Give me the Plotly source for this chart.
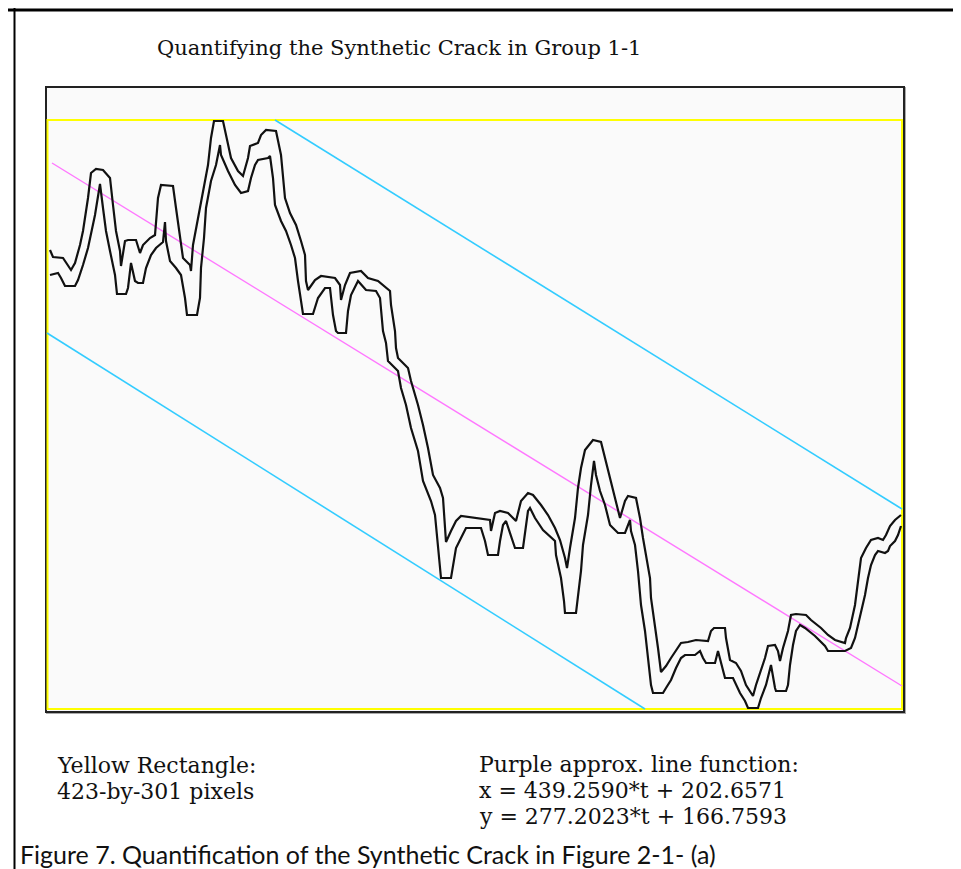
import plotly.graph_objects as go

# ---- crack outline, upper edge (image pixel coordinates, y downward) ----
upper_x = [42, 45, 55, 63, 67, 72, 75, 80, 83, 88, 95, 102, 105, 108, 112, 113, 117, 120, 128, 132, 135, 142, 147,
           150, 153, 165, 168, 172, 175, 182, 183, 185, 190, 195, 200, 203, 206, 215, 218, 223, 230, 235, 240, 242,
           250, 253, 258, 268, 273, 277, 282, 288, 293, 297, 298, 300, 307, 313, 327, 332, 333, 337, 342, 353, 360,
           370, 382, 383, 387, 388, 390, 400, 403, 410, 415, 420, 425, 432, 435, 437, 438, 443, 448, 453, 470, 482,
           483, 487, 492, 500, 508, 513, 520, 525, 533, 540, 547, 552, 557, 559, 562, 567, 570, 573, 577, 585, 593,
           597, 602, 605, 610, 612, 617, 620, 628, 632, 635, 638, 642, 643, 647, 650, 653, 658, 663, 670, 673, 680,
           688, 700, 703, 706, 717, 718, 720, 722, 728, 733, 738, 745, 748, 753, 757, 760, 767, 770, 772, 775, 780,
           783, 788, 798, 803, 813, 820, 827, 837, 838, 842, 847, 850, 853, 858, 863, 870, 875, 878, 882, 887, 893]
upper_y = [242, 249, 250, 262, 255, 237, 223, 190, 165, 161, 162, 170, 197, 223, 243, 258, 233, 232, 232, 245, 237,
           230, 227, 190, 177, 178, 200, 230, 250, 257, 263, 237, 210, 183, 157, 130, 113, 113, 127, 150, 163, 168,
           150, 138, 135, 127, 122, 123, 147, 190, 205, 217, 233, 247, 273, 282, 272, 268, 270, 277, 292, 277, 265,
           263, 270, 273, 283, 297, 323, 340, 350, 360, 373, 397, 417, 440, 467, 480, 490, 517, 534, 523, 513, 508,
           510, 512, 523, 505, 503, 505, 513, 493, 485, 487, 497, 507, 520, 532, 550, 560, 540, 510, 480, 460, 442,
           432, 434, 450, 470, 480, 503, 510, 493, 488, 490, 510, 530, 547, 570, 590, 617, 640, 664, 658, 650, 640,
           635, 634, 632, 633, 623, 620, 620, 630, 643, 652, 655, 663, 677, 688, 677, 663, 650, 638, 637, 643, 653,
           640, 623, 607, 606, 607, 612, 620, 627, 632, 635, 630, 620, 597, 573, 550, 540, 532, 530, 532, 527, 518,
           512, 507]

# ---- crack outline, lower edge ----
lower_x = [42, 50, 53, 57, 67, 70, 75, 80, 87, 92, 95, 98, 102, 107, 109, 118, 120, 123, 127, 130, 135, 138, 143,
           148, 155, 157, 158, 162, 168, 173, 177, 179, 189, 192, 193, 196, 198, 203, 208, 212, 213, 220, 227, 233,
           240, 243, 247, 250, 260, 262, 265, 267, 273, 278, 283, 287, 290, 293, 295, 305, 310, 317, 322, 325, 328,
           330, 338, 340, 343, 350, 358, 368, 372, 375, 378, 380, 390, 393, 398, 403, 410, 415, 423, 427, 432, 433,
           443, 445, 448, 453, 458, 473, 477, 480, 490, 492, 495, 498, 503, 507, 515, 517, 520, 522, 527, 535, 540,
           547, 548, 553, 556, 557, 568, 570, 573, 575, 580, 583, 586, 588, 592, 597, 602, 605, 610, 617, 620, 622,
           623, 627, 630, 633, 637, 640, 643, 645, 655, 658, 663, 668, 673, 677, 687, 692, 695, 698, 707, 710, 712,
           715, 717, 725, 728, 732, 737, 740, 750, 753, 758, 762, 763, 767, 768, 778, 780, 782, 785, 788, 792, 797,
           807, 817, 820, 837, 843, 847, 850, 853, 857, 860, 863, 867, 870, 877, 880, 882, 887, 890, 893]
lower_y = [267, 265, 270, 278, 278, 272, 257, 240, 207, 176, 200, 223, 243, 267, 286, 286, 280, 255, 273, 275, 275,
           260, 247, 240, 234, 214, 233, 253, 260, 267, 290, 307, 307, 290, 260, 230, 200, 173, 157, 137, 147, 163,
           177, 185, 183, 170, 157, 152, 150, 148, 170, 197, 213, 223, 237, 250, 273, 293, 306, 306, 290, 280, 280,
           307, 323, 325, 325, 303, 287, 273, 282, 283, 290, 323, 335, 353, 363, 380, 397, 420, 443, 473, 493, 507,
           563, 570, 570, 557, 540, 530, 520, 520, 533, 547, 547, 533, 517, 513, 527, 540, 540, 523, 503, 500, 510,
           522, 527, 533, 547, 570, 593, 605, 605, 590, 563, 537, 507, 477, 453, 467, 483, 497, 517, 520, 525, 525,
           518, 512, 523, 537, 563, 597, 623, 650, 677, 685, 685, 680, 672, 660, 650, 647, 647, 643, 650, 655, 655,
           643, 650, 663, 670, 670, 677, 685, 693, 700, 700, 690, 677, 663, 657, 680, 683, 683, 677, 657, 637, 623,
           617, 620, 628, 638, 643, 643, 640, 630, 617, 603, 587, 570, 557, 547, 543, 545, 543, 538, 533, 527, 518]

# ---- fitted / bounding lines (end points) ----
purple_x = [44, 894]
purple_y = [155, 678]
cyan_top_x = [267, 894]
cyan_top_y = [112, 501]
cyan_bot_x = [39, 637]
cyan_bot_y = [325, 701]

title_text = "Quantifying the Synthetic Crack in Group 1-1"
left_note = ["Yellow Rectangle:", "423-by-301 pixels"]
right_note = ["Purple approx. line function:", "x = 439.2590*t + 202.6571", "y = 277.2023*t + 166.7593"]
caption = "Figure 7. Quantification of the Synthetic Crack in Figure 2-1- (a)"

W, H = 961, 869
fig = go.Figure()

# plot box and yellow rectangle
fig.add_shape(type="rect", x0=39, y0=80, x1=897, y1=705, line=dict(color="#aaaaaa", width=2), layer="below")
fig.add_shape(type="rect", x0=38, y0=79, x1=896, y1=704, line=dict(color="#222222", width=2),
              fillcolor="#fafafa", layer="below")
fig.add_shape(type="rect", x0=39.5, y0=112, x1=894, y1=701, line=dict(color="#ffff00", width=2), layer="below")

# outer frame lines
fig.add_shape(type="line", x0=6.5, y0=0, x1=6.5, y1=H, line=dict(color="black", width=2))
fig.add_shape(type="line", x0=0, y0=2, x1=958, y1=2, line=dict(color="black", width=3))
fig.add_shape(type="line", x0=957, y0=0, x1=957, y1=706, line=dict(color="black", width=2))

line_style = dict(mode="lines", hoverinfo="skip", showlegend=False)
fig.add_trace(go.Scatter(x=cyan_top_x, y=cyan_top_y, line=dict(color="#33ccff", width=1.6), **line_style))
fig.add_trace(go.Scatter(x=cyan_bot_x, y=cyan_bot_y, line=dict(color="#33ccff", width=1.6), **line_style))
fig.add_trace(go.Scatter(x=purple_x, y=purple_y, line=dict(color="#ff77ff", width=1.4), **line_style))
fig.add_trace(go.Scatter(x=upper_x, y=upper_y, line=dict(color="#111111", width=2.2), **line_style))
fig.add_trace(go.Scatter(x=lower_x, y=lower_y, line=dict(color="#111111", width=2.2), **line_style))

serif = "DejaVu Serif, serif"
ann = []
ann.append(dict(x=391, y=40, text=title_text, xanchor="center", yanchor="middle",
                font=dict(family=serif, size=21, color="#111111")))
for i, t in enumerate(left_note):
    ann.append(dict(x=47, y=757 + i * 26, text=t, xanchor="left", yanchor="middle",
                    font=dict(family=serif, size=22, color="#111111")))
for i, t in enumerate(right_note):
    ann.append(dict(x=469, y=756 + i * 26, text=t, xanchor="left", yanchor="middle",
                    font=dict(family=serif, size=22, color="#111111")))
ann.append(dict(x=10, y=846, text=caption, xanchor="left", yanchor="middle",
                font=dict(family="Lato, Noto Sans, sans-serif", size=25, color="#111111")))
for a in ann:
    a.update(xref="x", yref="y", showarrow=False)

fig.update_layout(
    width=W, height=H, margin=dict(l=0, r=0, t=0, b=0),
    paper_bgcolor="white", plot_bgcolor="white",
    xaxis=dict(range=[0, W], visible=False, fixedrange=True),
    yaxis=dict(range=[H, 0], visible=False, fixedrange=True),
    annotations=ann,
)
fig.write_html("out.html")
